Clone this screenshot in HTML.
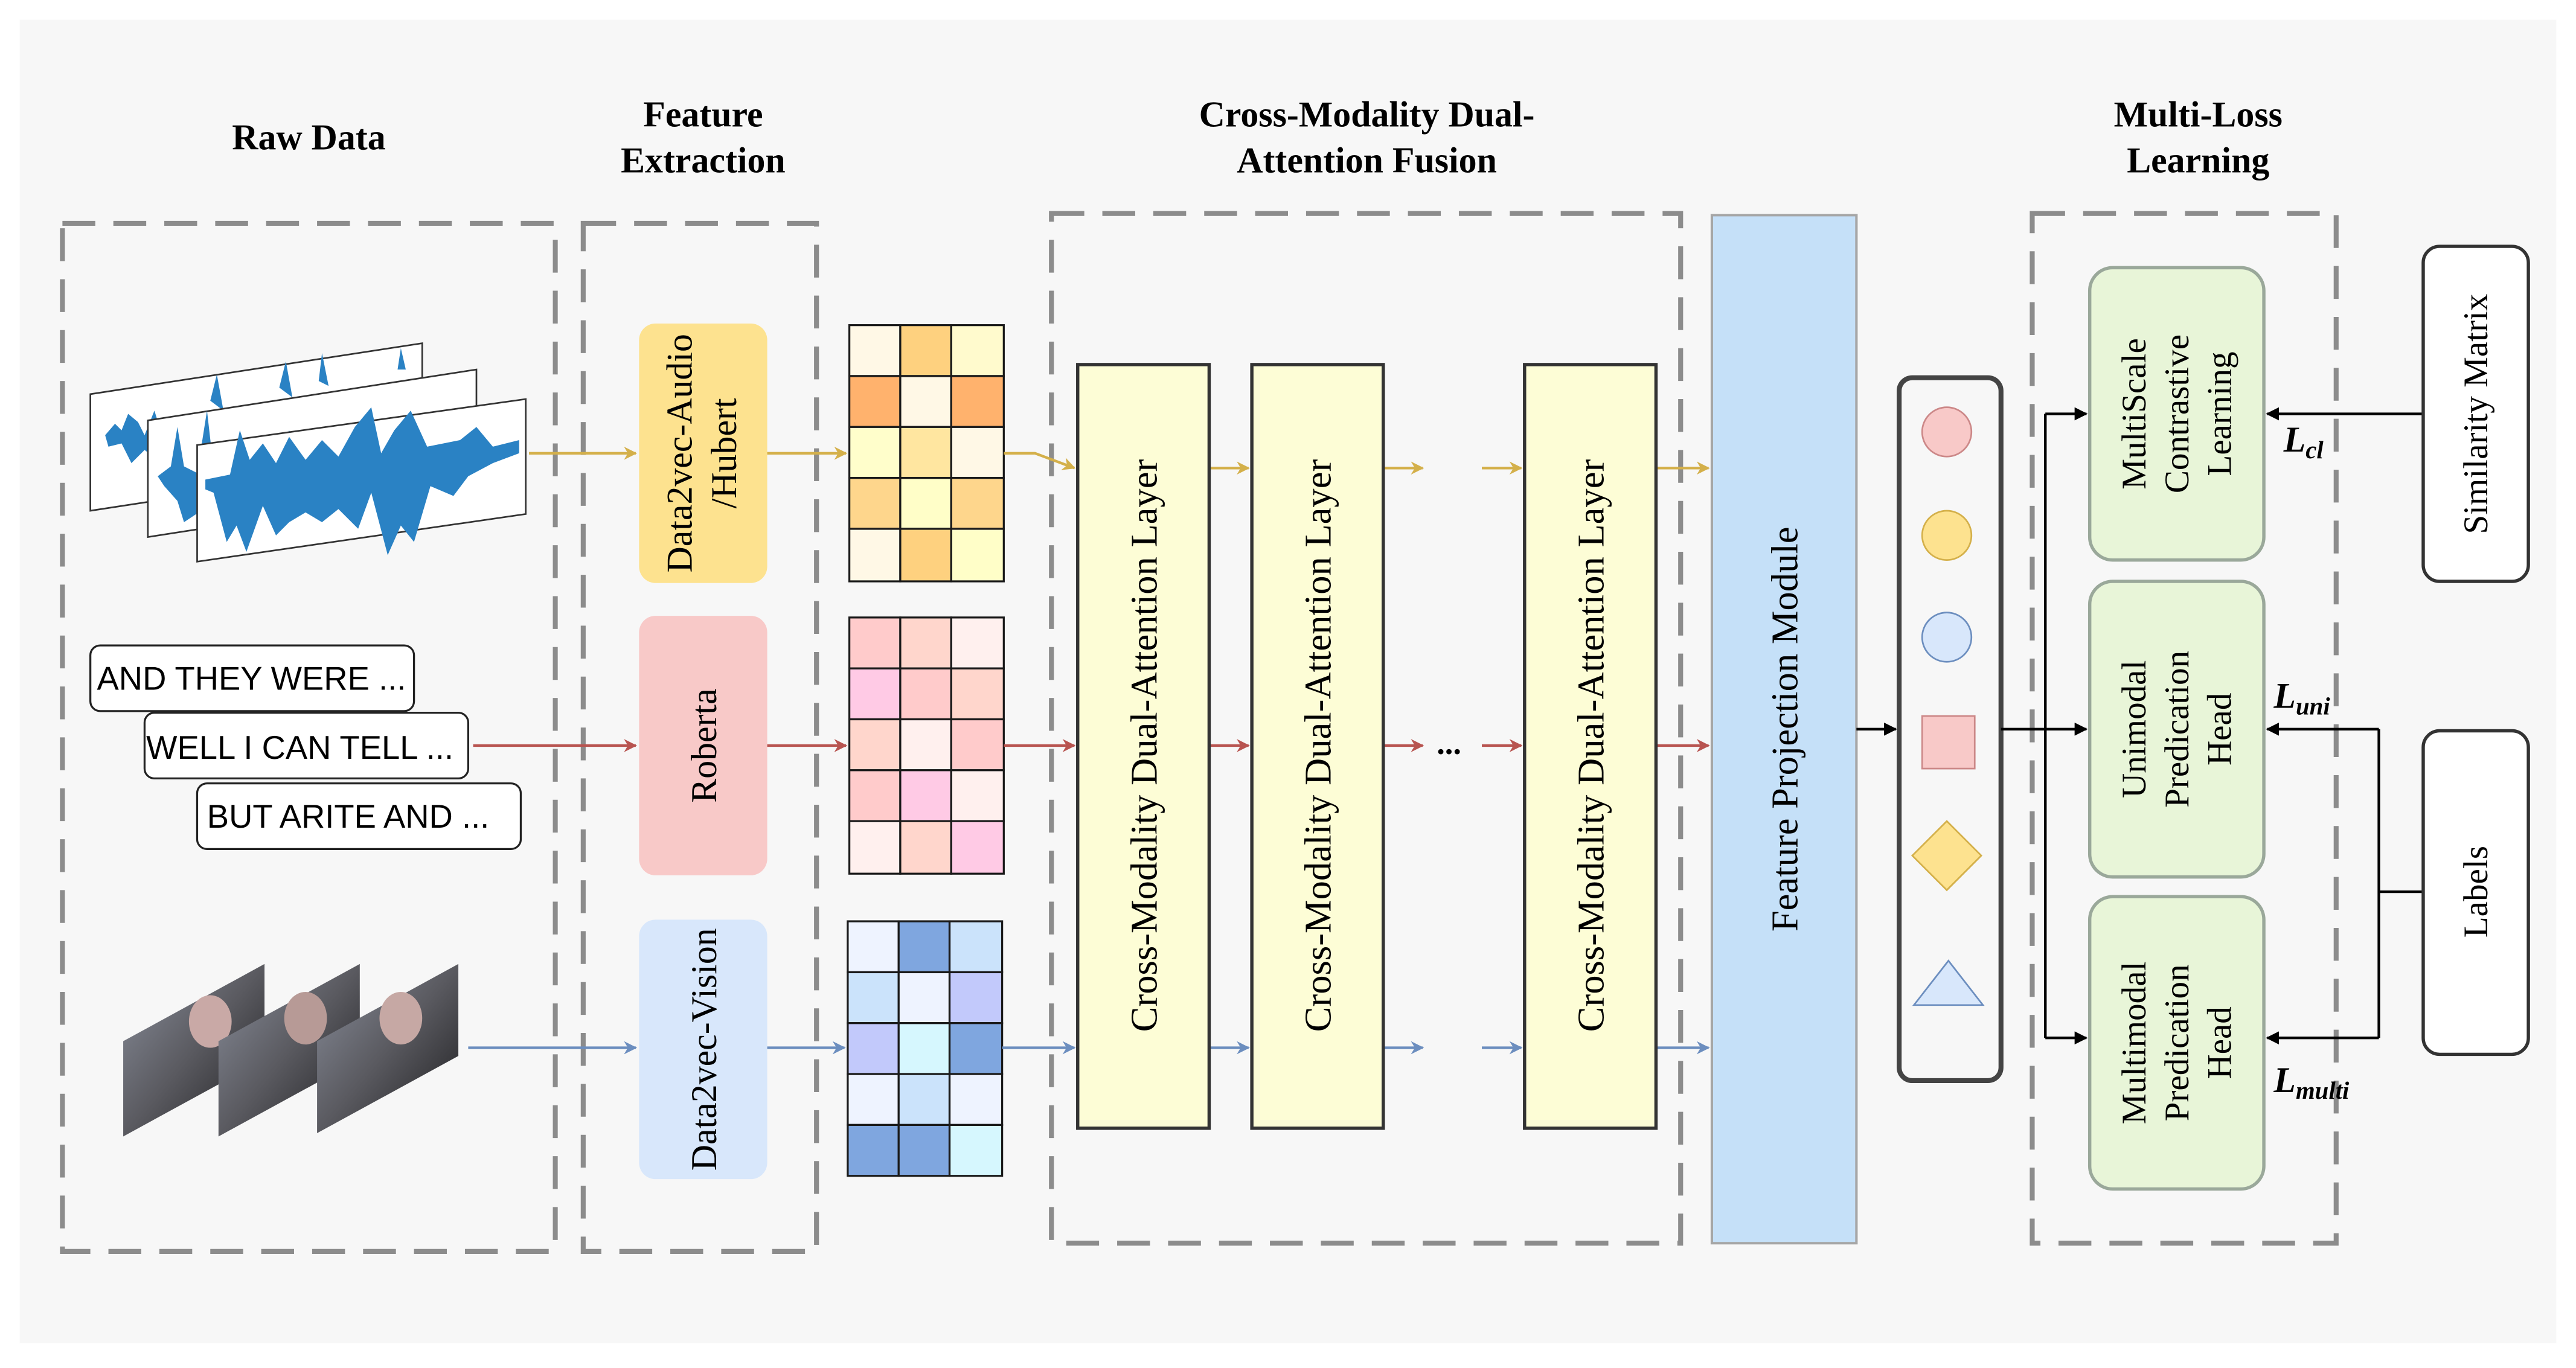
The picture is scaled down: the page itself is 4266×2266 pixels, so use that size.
<!DOCTYPE html>
<html><head><meta charset="utf-8"><style>html,body{margin:0;padding:0;background:#fff}svg{display:block}</style></head>
<body>
<svg width="4266" height="2266" viewBox="0 0 1568 833" preserveAspectRatio="none" xmlns="http://www.w3.org/2000/svg" font-family="Liberation Serif, serif">
<defs>
<marker id="ag" viewBox="0 0 10 10" refX="9" refY="5" markerWidth="5" markerHeight="5" orient="auto"><path d="M0,0L10,5L0,10L3,5z" fill="#d4b04a"/></marker>
<marker id="ar" viewBox="0 0 10 10" refX="9" refY="5" markerWidth="5" markerHeight="5" orient="auto"><path d="M0,0L10,5L0,10L3,5z" fill="#b85450"/></marker>
<marker id="ab" viewBox="0 0 10 10" refX="9" refY="5" markerWidth="5" markerHeight="5" orient="auto"><path d="M0,0L10,5L0,10L3,5z" fill="#6c8ebf"/></marker>
<marker id="ak" viewBox="0 0 10 10" refX="9" refY="5" markerWidth="5" markerHeight="5" orient="auto"><path d="M0,0L10,5L0,10z" fill="#000"/></marker>
<linearGradient id="face" x1="0" y1="0" x2="1" y2="1"><stop offset="0" stop-color="#8a8f9c"/><stop offset="0.5" stop-color="#5a5a60"/><stop offset="1" stop-color="#1c1c1e"/></linearGradient>
</defs>
<rect x="0" y="0" width="1568" height="833" fill="#fff"/>
<rect x="12" y="12" width="1544" height="806" fill="#f7f7f7"/>

<g font-weight="bold" font-size="22" text-anchor="middle" fill="#000">
<text x="188" y="91">Raw Data</text>
<text x="428" y="77">Feature</text><text x="428" y="105">Extraction</text>
<text x="832" y="77">Cross-Modality Dual-</text><text x="832" y="105">Attention Fusion</text>
<text x="1338" y="77">Multi-Loss</text><text x="1338" y="105">Learning</text>
</g>

<g fill="none" stroke="#8c8c8c" stroke-width="3" stroke-dasharray="20 11">
<rect x="38" y="136" width="300" height="626"/>
<rect x="355" y="136" width="142" height="626"/>
<rect x="640" y="130" width="383" height="627"/>
<rect x="1237" y="130" width="185" height="627"/>
</g>

<g stroke="#333" stroke-width="1">
<polygon points="55,240 257,209 257,280 55,311" fill="#fff"/>
<path d="M64,265 L70,258 L74,262 L78,252 L84,257 L88,265 L94,250 L98,263 L102,272 L96,280 L88,274 L80,282 L74,270 L66,272Z M128,244 L132,228 L136,250 Z M170,236 L174,220 L178,242Z M194,232 L196,215 L200,235Z M242,225 L244,212 L247,225Z" fill="#2a82c4" stroke="none"/>
<polygon points="90,256 290,225 290,296 90,327" fill="#fff"/>
<path d="M96,290 L104,284 L108,260 L112,284 L120,288 L126,250 L130,285 L140,268 L150,280 L160,272 L170,283 L176,262 L182,275 L196,272 L210,270 L226,268 L240,264 L260,260 L282,252 L282,256 L240,270 L200,282 L180,290 L150,300 L130,306 L112,318 L108,305 L100,296Z" fill="#2a82c4" stroke="none"/>
<polygon points="120,271 320,243 320,313 120,342" fill="#fff"/>
<path d="M125,292 L140,289 L146,262 L152,280 L160,270 L168,282 L176,266 L186,280 L196,268 L206,278 L216,260 L226,248 L232,276 L240,262 L250,250 L260,272 L280,268 L290,260 L300,272 L316,268 L316,276 L300,282 L285,290 L276,302 L262,296 L252,330 L244,320 L236,338 L226,300 L218,322 L206,310 L196,318 L186,312 L176,318 L168,326 L160,308 L150,336 L144,320 L138,330 L130,300 L125,298Z" fill="#2a82c4" stroke="none"/>
</g>

<g font-size="20" fill="#000" font-family="Liberation Sans, sans-serif">
<rect x="55" y="393" width="197" height="40" rx="6" fill="#fff" stroke="#222" stroke-width="1.2"/>
<text x="59" y="420">AND THEY WERE ...</text>
<rect x="88" y="434" width="197" height="40" rx="6" fill="#fff" stroke="#222" stroke-width="1.2"/>
<text x="89" y="462">WELL I CAN TELL ...</text>
<rect x="120" y="477" width="197" height="40" rx="6" fill="#fff" stroke="#222" stroke-width="1.2"/>
<text x="126" y="504">BUT ARITE AND  ...</text>
</g>

<g>
<polygon points="75,692 75,634 161,587 161,645" fill="url(#face)"/>
<ellipse cx="128" cy="622" rx="13" ry="16" fill="#c9a9a6"/>
<polygon points="133,692 133,634 219,587 219,645" fill="url(#face)"/>
<ellipse cx="186" cy="620" rx="13" ry="16" fill="#b79a96"/>
<polygon points="193,690 193,634 279,587 279,643" fill="url(#face)"/>
<ellipse cx="244" cy="620" rx="13" ry="16" fill="#c6a8a4"/>
</g>

<g font-size="22" text-anchor="middle" fill="#000">
<rect x="389" y="197" width="78" height="158" rx="10" fill="#fde28f"/>
<text transform="translate(421,276) rotate(-90)">Data2vec-Audio</text>
<text transform="translate(448,276) rotate(-90)">/Hubert</text>
<rect x="389" y="375" width="78" height="158" rx="10" fill="#f8c9c8"/>
<text transform="translate(436,454) rotate(-90)">Roberta</text>
<rect x="389" y="560" width="78" height="158" rx="10" fill="#d8e7fb"/>
<text transform="translate(436,639) rotate(-90)">Data2vec-Vision</text>
</g>

<g stroke="#1a1a1a" stroke-width="1.2">
<rect x="517" y="198" width="31" height="31" fill="#fff8e6"/><rect x="548" y="198" width="31" height="31" fill="#fed17f"/><rect x="579" y="198" width="32" height="31" fill="#fffacd"/>
<rect x="517" y="229" width="31" height="31" fill="#ffb26d"/><rect x="548" y="229" width="31" height="31" fill="#fff8e6"/><rect x="579" y="229" width="32" height="31" fill="#ffb26d"/>
<rect x="517" y="260" width="31" height="31" fill="#fffecb"/><rect x="548" y="260" width="31" height="31" fill="#ffe6a0"/><rect x="579" y="260" width="32" height="31" fill="#fff8e6"/>
<rect x="517" y="291" width="31" height="31" fill="#fed68c"/><rect x="548" y="291" width="31" height="31" fill="#fffec8"/><rect x="579" y="291" width="32" height="31" fill="#fed68c"/>
<rect x="517" y="322" width="31" height="32" fill="#fff8e6"/><rect x="548" y="322" width="31" height="32" fill="#fed17f"/><rect x="579" y="322" width="32" height="32" fill="#fffec8"/>

<rect x="517" y="376" width="31" height="31" fill="#ffcbcb"/><rect x="548" y="376" width="31" height="31" fill="#ffd6cc"/><rect x="579" y="376" width="32" height="31" fill="#fff0ee"/>
<rect x="517" y="407" width="31" height="31" fill="#ffcae5"/><rect x="548" y="407" width="31" height="31" fill="#ffcbcb"/><rect x="579" y="407" width="32" height="31" fill="#ffd6cc"/>
<rect x="517" y="438" width="31" height="31" fill="#ffd6cc"/><rect x="548" y="438" width="31" height="31" fill="#fff0ee"/><rect x="579" y="438" width="32" height="31" fill="#ffcbcb"/>
<rect x="517" y="469" width="31" height="31" fill="#ffcbcb"/><rect x="548" y="469" width="31" height="31" fill="#ffcae5"/><rect x="579" y="469" width="32" height="31" fill="#fff0ee"/>
<rect x="517" y="500" width="31" height="32" fill="#fff0ee"/><rect x="548" y="500" width="31" height="32" fill="#ffd6cc"/><rect x="579" y="500" width="32" height="32" fill="#ffcae5"/>

<rect x="516" y="561" width="31" height="31" fill="#eef3ff"/><rect x="547" y="561" width="31" height="31" fill="#7fa6df"/><rect x="578" y="561" width="32" height="31" fill="#cbe3fb"/>
<rect x="516" y="592" width="31" height="31" fill="#cbe3fb"/><rect x="547" y="592" width="31" height="31" fill="#eef3ff"/><rect x="578" y="592" width="32" height="31" fill="#c2c9fb"/>
<rect x="516" y="623" width="31" height="31" fill="#c2c9fb"/><rect x="547" y="623" width="31" height="31" fill="#d6f7fe"/><rect x="578" y="623" width="32" height="31" fill="#7fa6df"/>
<rect x="516" y="654" width="31" height="31" fill="#eef3ff"/><rect x="547" y="654" width="31" height="31" fill="#cbe3fb"/><rect x="578" y="654" width="32" height="31" fill="#eef3ff"/>
<rect x="516" y="685" width="31" height="31" fill="#7fa6df"/><rect x="547" y="685" width="31" height="31" fill="#7fa6df"/><rect x="578" y="685" width="32" height="31" fill="#d6f7fe"/>
</g>

<g stroke-width="1.6" fill="none">
<line x1="322" y1="276" x2="387" y2="276" stroke="#d4b04a" marker-end="url(#ag)"/>
<line x1="467" y1="276" x2="515" y2="276" stroke="#d4b04a" marker-end="url(#ag)"/>
<polyline points="611,276 630,276 654,285" stroke="#d4b04a" marker-end="url(#ag)"/>
<line x1="288" y1="454" x2="387" y2="454" stroke="#b85450" marker-end="url(#ar)"/>
<line x1="467" y1="454" x2="515" y2="454" stroke="#b85450" marker-end="url(#ar)"/>
<line x1="611" y1="454" x2="654" y2="454" stroke="#b85450" marker-end="url(#ar)"/>
<line x1="285" y1="638" x2="387" y2="638" stroke="#6c8ebf" marker-end="url(#ab)"/>
<line x1="467" y1="638" x2="514" y2="638" stroke="#6c8ebf" marker-end="url(#ab)"/>
<line x1="610" y1="638" x2="654" y2="638" stroke="#6c8ebf" marker-end="url(#ab)"/>

<line x1="736" y1="285" x2="760" y2="285" stroke="#d4b04a" marker-end="url(#ag)"/>
<line x1="842" y1="285" x2="866" y2="285" stroke="#d4b04a" marker-end="url(#ag)"/>
<line x1="902" y1="285" x2="926" y2="285" stroke="#d4b04a" marker-end="url(#ag)"/>
<line x1="1008" y1="285" x2="1040" y2="285" stroke="#d4b04a" marker-end="url(#ag)"/>
<line x1="736" y1="454" x2="760" y2="454" stroke="#b85450" marker-end="url(#ar)"/>
<line x1="842" y1="454" x2="866" y2="454" stroke="#b85450" marker-end="url(#ar)"/>
<line x1="902" y1="454" x2="926" y2="454" stroke="#b85450" marker-end="url(#ar)"/>
<line x1="1008" y1="454" x2="1040" y2="454" stroke="#b85450" marker-end="url(#ar)"/>
<line x1="736" y1="638" x2="760" y2="638" stroke="#6c8ebf" marker-end="url(#ab)"/>
<line x1="842" y1="638" x2="866" y2="638" stroke="#6c8ebf" marker-end="url(#ab)"/>
<line x1="902" y1="638" x2="926" y2="638" stroke="#6c8ebf" marker-end="url(#ab)"/>
<line x1="1008" y1="638" x2="1040" y2="638" stroke="#6c8ebf" marker-end="url(#ab)"/>
</g>
<text x="882" y="459" font-size="20" font-weight="bold" text-anchor="middle">...</text>

<g font-size="23" text-anchor="middle" fill="#000">
<rect x="656" y="222" width="80" height="465" fill="#fdfdd6" stroke="#333" stroke-width="2"/>
<text transform="translate(704,454) rotate(-90)">Cross-Modality Dual-Attention Layer</text>
<rect x="762" y="222" width="80" height="465" fill="#fdfdd6" stroke="#333" stroke-width="2"/>
<text transform="translate(810,454) rotate(-90)">Cross-Modality Dual-Attention Layer</text>
<rect x="928" y="222" width="80" height="465" fill="#fdfdd6" stroke="#333" stroke-width="2"/>
<text transform="translate(976,454) rotate(-90)">Cross-Modality Dual-Attention Layer</text>
<rect x="1042" y="131" width="88" height="626" fill="#c5e0f8" stroke="#a6a6a6" stroke-width="1.5"/>
<text transform="translate(1094,444) rotate(-90)">Feature Projection Module</text>
</g>

<rect x="1156" y="230" width="62" height="428" rx="8" fill="none" stroke="#444" stroke-width="3"/>
<circle cx="1185" cy="263" r="15" fill="#f8c9c8" stroke="#c88" stroke-width="1"/>
<circle cx="1185" cy="326" r="15" fill="#fde28f" stroke="#d4b04a" stroke-width="1"/>
<circle cx="1185" cy="388" r="15" fill="#d8e7fb" stroke="#6c8ebf" stroke-width="1"/>
<rect x="1170" y="436" width="32" height="32" fill="#f8c9c8" stroke="#c88" stroke-width="1"/>
<polygon points="1185,500 1206,521 1185,542 1164,521" fill="#fde28f" stroke="#d4b04a" stroke-width="1"/>
<polygon points="1186,585 1207,612 1165,612" fill="#d8e7fb" stroke="#6c8ebf" stroke-width="1"/>

<g stroke="#000" stroke-width="1.6" fill="none">
<line x1="1130" y1="444" x2="1154" y2="444" marker-end="url(#ak)"/>
<line x1="1218" y1="444" x2="1245" y2="444"/>
<line x1="1245" y1="252" x2="1245" y2="632"/>
<line x1="1245" y1="252" x2="1270" y2="252" marker-end="url(#ak)"/>
<line x1="1245" y1="444" x2="1270" y2="444" marker-end="url(#ak)"/>
<line x1="1245" y1="632" x2="1270" y2="632" marker-end="url(#ak)"/>
<line x1="1475" y1="252" x2="1380" y2="252" marker-end="url(#ak)"/>
<line x1="1475" y1="543" x2="1448" y2="543"/>
<line x1="1448" y1="444" x2="1448" y2="632"/>
<line x1="1448" y1="444" x2="1380" y2="444" marker-end="url(#ak)"/>
<line x1="1448" y1="632" x2="1380" y2="632" marker-end="url(#ak)"/>
</g>

<g font-size="21" text-anchor="middle" fill="#000">
<rect x="1272" y="163" width="106" height="178" rx="14" fill="#e8f5d8" stroke="#9aa89a" stroke-width="2"/>
<text transform="translate(1306,252) rotate(-90)">MultiScale</text>
<text transform="translate(1332,252) rotate(-90)">Contrastive</text>
<text transform="translate(1358,252) rotate(-90)">Learning</text>
<rect x="1272" y="354" width="106" height="180" rx="14" fill="#e8f5d8" stroke="#9aa89a" stroke-width="2"/>
<text transform="translate(1306,444) rotate(-90)">Unimodal</text>
<text transform="translate(1332,444) rotate(-90)">Predication</text>
<text transform="translate(1358,444) rotate(-90)">Head</text>
<rect x="1272" y="546" width="106" height="178" rx="14" fill="#e8f5d8" stroke="#9aa89a" stroke-width="2"/>
<text transform="translate(1306,635) rotate(-90)">Multimodal</text>
<text transform="translate(1332,635) rotate(-90)">Predication</text>
<text transform="translate(1358,635) rotate(-90)">Head</text>
<rect x="1475" y="150" width="64" height="204" rx="10" fill="#fff" stroke="#333" stroke-width="2"/>
<text transform="translate(1514,252) rotate(-90)">Similarity Matrix</text>
<rect x="1475" y="445" width="64" height="197" rx="10" fill="#fff" stroke="#333" stroke-width="2"/>
<text transform="translate(1514,543) rotate(-90)">Labels</text>
</g>

<g font-weight="bold" font-style="italic" font-size="22" fill="#000">
<text x="1390" y="275">L<tspan font-size="15" dy="4">cl</tspan></text>
<text x="1384" y="431">L<tspan font-size="15" dy="4">uni</tspan></text>
<text x="1384" y="665">L<tspan font-size="15" dy="4">multi</tspan></text>
</g>
</svg>
</body></html>
